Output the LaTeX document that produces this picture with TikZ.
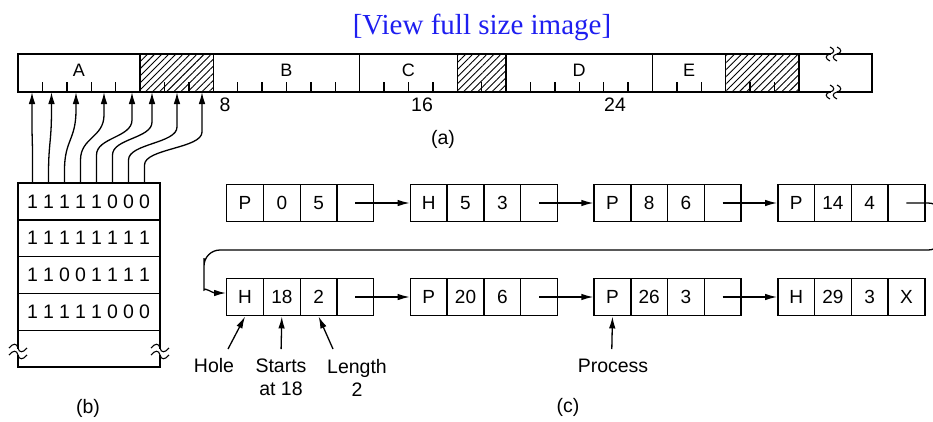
\documentclass[tikz,border=0pt]{standalone}
\usepackage{fontspec}
\setmainfont{Liberation Sans}
\newfontfamily\linkfont{Liberation Serif}
\usetikzlibrary{arrows.meta,patterns.meta}
\definecolor{linkblue}{RGB}{30,30,240}
\newcommand\fs{\fontsize{19.5}{23}\selectfont}
\newcommand\unitw{24.4}
\newcommand\listbox[7]{%
  \node[cell] (#1-1) at (#2,#3) {#4};
  \node[cell] (#1-2) at (#2+36.75,#3) {#5};
  \node[cell] (#1-3) at (#2+73.5,#3) {#6};
  \node[cell] (#1-4) at (#2+110.25,#3) {#7};}
\begin{document}
\begin{tikzpicture}[x=1pt,y=-1pt,line width=1.4pt,
  cell/.style={draw,minimum width=36.75pt,minimum height=37.5pt,inner sep=0pt,anchor=west,font=\fontsize{19}{22}\selectfont},
  lbl/.style={inner sep=0pt,font=\fs},
  seglbl/.style={inner sep=0pt,font=\fontsize{18}{21}\selectfont},
  digit/.style={inner sep=0pt,font=\fontsize{19.5}{22}\selectfont},
  bitrow/.style={draw,minimum width=142pt,minimum height=36.8pt,inner sep=0pt},
  arr/.style={-{Latex[length=12pt,width=6.5pt]},line width=1.3pt},
  hatch/.style={pattern={Lines[angle=45,distance=5pt,line width=0.9pt]}},
  brk/.style={line width=1.1pt}]
\clip (0,0) rectangle (933,421);
\node[font=\linkfont\fontsize{29}{32}\selectfont,text=linkblue,inner sep=0pt] (view) at (482,27) {[View full size image]};

% ---------- (a) memory bar ----------
\foreach \a/\b in {5/8,18/20,29/32}
  \fill[hatch] (18+\a*\unitw,54) rectangle (18+\b*\unitw,92);
\foreach \k in {1,2,3,4,6,7,9,10,11,12,13,15,16,17,19,21,22,23,24,25,27,28,30,31}
  \draw (18+\k*\unitw,92) -- (18+\k*\unitw,82);
\draw (18,54) rectangle (872,92);
\foreach \k in {5,8,14,18,20,26,29,32}
  \draw (18+\k*\unitw,54) -- (18+\k*\unitw,92);
\fill[white] (830.5,50) rectangle (836.5,58);
\fill[white] (830.5,88) rectangle (836.5,96);
\foreach \yy in {54,92}{
  \foreach \xx in {830,837}
    \draw[brk] (\xx,\yy-7) .. controls (\xx+5,\yy-5) and (\xx+5,\yy-1) .. (\xx,\yy)
      .. controls (\xx-5,\yy+1) and (\xx-5,\yy+5) .. (\xx,\yy+7);}
\node[seglbl] (lA) at (18+2.5*\unitw,70) {A};
\node[seglbl] (lB) at (18+11*\unitw,70) {B};
\node[seglbl] (lC) at (18+16*\unitw,70) {C};
\node[seglbl] (lD) at (18+23*\unitw,70) {D};
\node[seglbl] (lE) at (18+27.5*\unitw,70) {E};
\node[lbl] (n8) at (225,105) {8};
\node[lbl] (n16) at (422,105) {16};
\node[lbl] (n24) at (615,105) {24};
\node[lbl] (capa) at (443,139) {(a)};

% ---------- (b) bitmap ----------
\foreach \r in {1,...,5}
  \node[bitrow] (row\r) at (89,183+36.8*\r-18.4) {};
\foreach \r/\bits in {1/{1,1,1,1,1,0,0,0},2/{1,1,1,1,1,1,1,1},3/{1,1,0,0,1,1,1,1},4/{1,1,1,1,1,0,0,0}}{
  \foreach \d [count=\i] in \bits
    \node[digit] (d\r-\i) at (16.5+16*\i,183+36.8*\r-18.4) {\d};}
\foreach \xx in {18,160}{
  \fill[white] (\xx-2,348.5) rectangle (\xx+2,354.5);
  \foreach \yy in {348,355}
    \draw[brk] (\xx-9,\yy) .. controls (\xx-5,\yy-5) and (\xx-1,\yy-5) .. (\xx,\yy)
      .. controls (\xx+1,\yy+5) and (\xx+5,\yy+5) .. (\xx+9,\yy);}
\node[lbl] (capb) at (88,408) {(b)};

% bitmap -> memory arrows
\foreach \i/\tx/\yb/\yt in {1/32/150/130,2/51.5/175/110,3/76/170/110,4/104/160/115,5/132/155/120,6/152/155/122,7/177/160/127,8/202/165/132}{
  \coordinate (base\i) at (row1.north -| d1-\i);
  \coordinate (tip\i) at (\tx,92);
  \pgfmathsetmacro\bx{16.5+16*\i}
  \pgfmathsetmacro\ym{(\yb+\yt)/2}
  \draw[arr] (base\i) -- (\bx,\yb) .. controls (\bx,\ym) and (\tx,\ym) .. (\tx,\yt) -- (tip\i);}

% ---------- (c) linked list ----------
\listbox{pa}{226}{203}{P}{0}{5}{}
\listbox{pb}{409.7}{203}{H}{5}{3}{}
\listbox{pc}{593.4}{203}{P}{8}{6}{}
\listbox{pd}{777.1}{203}{P}{14}{4}{}
\listbox{qa}{226}{297}{H}{18}{2}{}
\listbox{qb}{409.7}{297}{P}{20}{6}{}
\listbox{qc}{593.4}{297}{P}{26}{3}{}
\listbox{qd}{777.1}{297}{H}{29}{3}{X}
\draw[arr] (pa-4.center) -- (pb-1.west);
\draw[arr] (pb-4.center) -- (pc-1.west);
\draw[arr] (pc-4.center) -- (pd-1.west);
\draw[arr,rounded corners=16pt] (pd-4.center) -- (944,203) -- (944,250) -- (204,250) -- (204,274)
  .. controls (204,287) and (213,293) .. ([yshift=4pt]qa-1.west);
\draw[arr] (qa-4.center) -- (qb-1.west);
\draw[arr] (qb-4.center) -- (qc-1.west);
\draw[arr] (qc-4.center) -- (qd-1.west);

\node[lbl] (hole) at (214,366) {Hole};
\node[lbl,align=center,font=\fontsize{19.5}{23}\selectfont] (starts) at (281,377.5) {Starts\\at 18};
\node[lbl,align=center,font=\fontsize{19.5}{23}\selectfont] (length) at (357,377.5) {Length\\2};
\node[lbl] (process) at (613,366) {Process};
\node[lbl] (capc) at (568,407) {(c)};
\coordinate (holeS) at (228,349);
\coordinate (startsS) at (281.1,349);
\coordinate (lengthS) at (333,349);
\coordinate (processS) at (611.8,349);
\draw[arr] (holeS) -- (qa-1.south);
\draw[arr] (startsS) -- (qa-2.south);
\draw[arr] (lengthS) -- (qa-3.south);
\draw[arr] (processS) -- (qc-1.south);
\end{tikzpicture}
\end{document}
